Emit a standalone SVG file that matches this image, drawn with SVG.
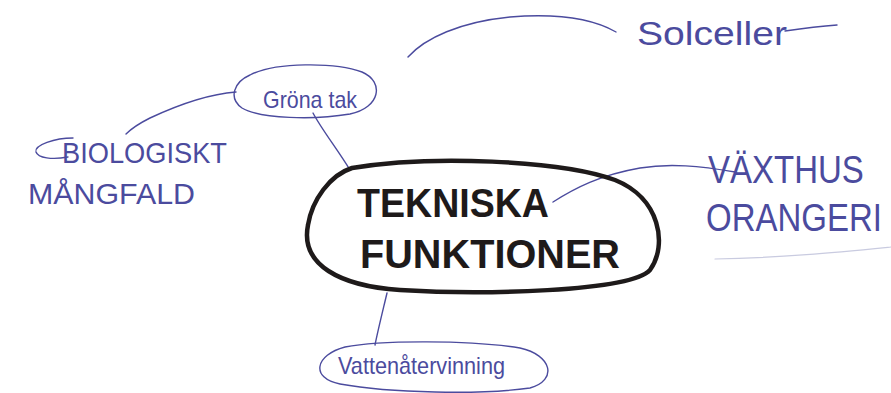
<svg xmlns="http://www.w3.org/2000/svg" width="891" height="393" viewBox="0 0 891 393">
<style>
.pen{fill:none;stroke:#4b4b9e;stroke-width:1.4;stroke-linecap:round;stroke-linejoin:round}
.faint{fill:none;stroke:#c9cbe0;stroke-width:1.2;stroke-linecap:round}
.marker{fill:none;stroke:#1e1a1a;stroke-width:4.5;stroke-linejoin:round}
.bt{font-family:"Liberation Sans",Arial,sans-serif;fill:#4b4b9e}
.ct{font-family:"Liberation Sans",Arial,sans-serif;font-weight:bold;fill:#1e1a1a}
</style>
<rect width="891" height="393" fill="#ffffff"/>
<g id="connectors">
  <path class="pen" d="M313 113 C322 130 338 150 350 170"/>
  <path class="pen" d="M387 293 C383 310 378 330 375 345"/>
  <path class="pen" d="M553 202 C575 188 600 175 640 168 C670 163 700 166 735 172"/>
  <path class="pen" d="M236 92 C210 94 180 104 150 118 C138 124 130 130 126 134"/>
  <path class="pen" d="M408 57 C425 38 460 22 510 17 C560 13 595 20 616 32"/>
</g>
<g id="center">
  <path class="marker" d="M352 168 C430 155 560 160 615 180 C660 198 668 245 650 270 C630 292 480 295 400 290 C340 286 300 265 308 225 C312 200 330 175 352 168 Z"/>
  <text class="ct" x="357" y="217" font-size="40" textLength="192" lengthAdjust="spacingAndGlyphs">TEKNISKA</text>
  <text class="ct" x="360" y="268" font-size="40" textLength="260" lengthAdjust="spacingAndGlyphs">FUNKTIONER</text>
</g>
<g id="grona-tak">
  <path class="pen" d="M250 75 C275 62 335 62 362 72 C385 82 380 108 350 114 C315 120 260 119 242 108 C228 98 234 82 250 75 Z"/>
  <text class="bt" x="263" y="108" font-size="24" textLength="94" lengthAdjust="spacingAndGlyphs">Gröna tak</text>
</g>
<g id="biologiskt">
  <path class="pen" d="M73 138 C55 138 34 145 36 152 C38 158 52 160 68 157"/>
  <text class="bt" x="62" y="163" font-size="30" textLength="165" lengthAdjust="spacingAndGlyphs">BIOLOGISKT</text>
  <text class="bt" x="28" y="204" font-size="30" textLength="167" lengthAdjust="spacingAndGlyphs">MÅNGFALD</text>
</g>
<g id="solceller">
  <text class="bt" x="637" y="45" font-size="34" textLength="150" lengthAdjust="spacingAndGlyphs">Solceller</text>
  <path class="pen" d="M785 31 C805 28 822 26 837 25"/>
</g>
<g id="vaxthus">
  <text class="bt" transform="translate(708 183) scale(1 1.2)" font-size="33">VÄXTHUS</text>
  <text class="bt" transform="translate(706 231) scale(1 1.2)" font-size="33">ORANGERI</text>
  <path class="faint" d="M715 259 C780 258 840 252 891 247"/>
</g>
<g id="vattenatervinning">
  <path class="pen" d="M345 347 C380 340 470 340 520 348 C552 355 558 380 530 388 C480 395 390 393 340 384 C310 378 315 355 345 347 Z"/>
  <text class="bt" x="338" y="374" font-size="24" textLength="167" lengthAdjust="spacingAndGlyphs">Vattenåtervinning</text>
</g>
</svg>
